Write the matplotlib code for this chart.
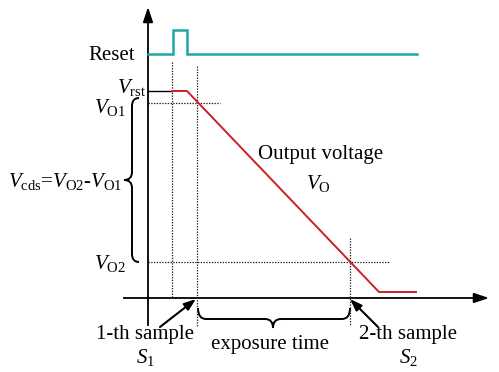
import matplotlib
matplotlib.use('Agg')
import matplotlib.pyplot as plt
from matplotlib.path import Path
from matplotlib.patches import PathPatch

plt.rcParams['font.family'] = ['Liberation Serif', 'DejaVu Serif']
plt.rcParams['mathtext.fontset'] = 'custom'
plt.rcParams['mathtext.rm'] = 'Liberation Serif'
plt.rcParams['mathtext.it'] = 'Liberation Serif:italic'

# diagram coordinates (pixel-like units, y grows downward)
reset_x = [148, 173, 173, 187, 187, 417]
reset_y = [54, 54, 30, 30, 54, 54]

vout_x = [172, 187, 379, 416]
vout_y = [91, 91, 292, 292]

vrst_x = [148, 172]
vrst_y = [91, 91]

# dotted guide lines: (x0, y0, x1, y1)
guides = [
    (172, 62, 172, 298),
    (197, 66, 197, 326),
    (350, 238, 350, 326),
    (148, 103, 220, 103),
    (148, 262, 390, 262),
]

teal = '#1fa5a5'
red = '#cc1f27'

fig = plt.figure(figsize=(4.99, 3.72), dpi=100)
ax = fig.add_axes([0, 0, 1, 1])
ax.set_xlim(0, 499)
ax.set_ylim(372, 0)
ax.axis('off')

# axes with arrows
ax.plot([148, 148], [325, 18], color='black', lw=1.3)
ax.plot([124, 478], [298, 298], color='black', lw=1.3)
ax.annotate('', xy=(148, 7), xytext=(148, 20),
            arrowprops=dict(arrowstyle='-|>,head_length=0.9,head_width=0.3',
                            color='black', lw=1.3, shrinkA=0, shrinkB=0))
ax.annotate('', xy=(489, 298), xytext=(476, 298),
            arrowprops=dict(arrowstyle='-|>,head_length=0.9,head_width=0.3',
                            color='black', lw=1.3, shrinkA=0, shrinkB=0))

for x0, y0, x1, y1 in guides:
    ax.plot([x0, x1], [y0, y1], color='#222222', lw=0.9, linestyle=(0, (1.1, 1.1)))

ax.plot(reset_x, reset_y, color=teal, lw=1.8, solid_joinstyle='miter')
ax.plot(vrst_x, vrst_y, color='black', lw=1.0)
ax.plot(vout_x, vout_y, color=red, lw=1.4)


def vbrace(xe, xb, xt, y0, y1, ym, r=8):
    verts = [(xe, y0), (xb, y0), (xb, y0 + r),
             (xb, ym - r), (xb, ym), (xt, ym),
             (xb, ym), (xb, ym + r),
             (xb, y1 - r), (xb, y1), (xe, y1)]
    codes = [Path.MOVETO, Path.CURVE3, Path.CURVE3,
             Path.LINETO, Path.CURVE3, Path.CURVE3,
             Path.CURVE3, Path.CURVE3,
             Path.LINETO, Path.CURVE3, Path.CURVE3]
    return Path(verts, codes)


def hbrace(x0, x1, xm, ye, yb, yt, r=8):
    verts = [(x0, ye), (x0, yb), (x0 + r, yb),
             (xm - r, yb), (xm, yb), (xm, yt),
             (xm, yb), (xm + r, yb),
             (x1 - r, yb), (x1, yb), (x1, ye)]
    codes = [Path.MOVETO, Path.CURVE3, Path.CURVE3,
             Path.LINETO, Path.CURVE3, Path.CURVE3,
             Path.CURVE3, Path.CURVE3,
             Path.LINETO, Path.CURVE3, Path.CURVE3]
    return Path(verts, codes)


ax.add_patch(PathPatch(vbrace(139, 132, 124, 98, 262, 180), fill=False, lw=1.4, color='black'))
ax.add_patch(PathPatch(hbrace(198, 350, 273, 308, 319, 328), fill=False, lw=1.4, color='black'))

# sample arrows
for start, end in [((160, 327), (196, 299)), ((378, 327), (350, 299))]:
    ax.annotate('', xy=end, xytext=start,
                arrowprops=dict(arrowstyle='-|>,head_length=0.7,head_width=0.25',
                                color='black', lw=1.5, shrinkA=0, shrinkB=0))

fs = 15
ax.text(135, 55, 'Reset', fontsize=fs, ha='right', va='center')
ax.text(146, 88, r'$V_{\rm rst}$', fontsize=fs, ha='right', va='center')
ax.text(126, 107, r'$V_{\rm O1}$', fontsize=fs, ha='right', va='center')
ax.text(122, 182, r'$V_{\rm cds}$=$V_{\rm O2}$-$V_{\rm O1}$', fontsize=fs, ha='right', va='center')
ax.text(126, 264, r'$V_{\rm O2}$', fontsize=fs, ha='right', va='center')
ax.text(321, 154, 'Output voltage', fontsize=fs, ha='center', va='center')
ax.text(318, 183, r'$V_{\rm O}$', fontsize=fs, ha='center', va='center')
ax.text(145, 335, '1-th sample', fontsize=fs, ha='center', va='center')
ax.text(145, 358, r'$S_1$', fontsize=fs, ha='center', va='center')
ax.text(270, 344, 'exposure time', fontsize=fs, ha='center', va='center')
ax.text(408, 334, '2-th sample', fontsize=fs, ha='center', va='center')
ax.text(408, 357, r'$S_2$', fontsize=fs, ha='center', va='center')

fig.savefig('out.png', dpi=100)
